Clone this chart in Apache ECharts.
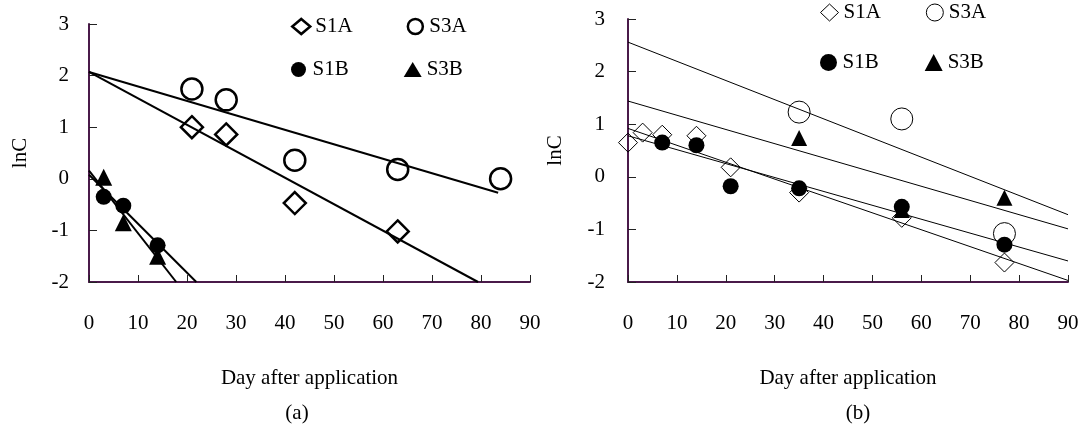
<!DOCTYPE html>
<html>
<head>
<meta charset="utf-8">
<script src="https://cdn.jsdelivr.net/npm/echarts@6/dist/echarts.min.js"></script>
<style>
html,body{margin:0;padding:0;background:#fff;}
#chart{width:1084px;height:433px;}
</style>
</head>
<body>
<div id="chart"></div>
<script>
// ---------- Data ----------
const xTicks = [0, 10, 20, 30, 40, 50, 60, 70, 80, 90];
const yTicks = [-2, -1, 0, 1, 2, 3];
const seriesNames = ['S1A', 'S3A', 'S1B', 'S3B'];

// Panel (a)
const a_S1A_x = [21, 28, 42, 63];
const a_S1A_y = [1.0, 0.86, -0.47, -1.02];
const a_S3A_x = [21, 28, 42, 63, 84];
const a_S3A_y = [1.74, 1.53, 0.36, 0.18, 0.0];
const a_S1B_x = [3, 7, 14];
const a_S1B_y = [-0.35, -0.52, -1.29];
const a_S3B_x = [3, 7, 14];
const a_S3B_y = [0.03, -0.85, -1.5];
// fitted lines (end points)
const a_fit_S1A = [[0, 2.07], [79.4, -2]];
const a_fit_S3A = [[0, 2.07], [83.5, -0.27]];
const a_fit_S1B = [[0, 0.08], [21.9, -2]];
const a_fit_S3B = [[0, 0.16], [17.8, -2]];

// Panel (b)
const b_S1A_x = [0, 3, 7, 14, 21, 35, 56, 77];
const b_S1A_y = [0.65, 0.84, 0.8, 0.78, 0.18, -0.3, -0.78, -1.63];
const b_S3A_x = [35, 56, 77];
const b_S3A_y = [1.23, 1.1, -1.08];
const b_S1B_x = [7, 14, 21, 35, 56, 77];
const b_S1B_y = [0.65, 0.6, -0.18, -0.22, -0.57, -1.29];
const b_S3B_x = [35, 56, 77];
const b_S3B_y = [0.74, -0.63, -0.4];
const b_fit_S3A = [[0, 2.56], [90, -0.72]];
const b_fit_S3B = [[0, 1.44], [90, -0.99]];
const b_fit_S1A = [[0, 0.92], [90, -1.97]];
const b_fit_S1B = [[0, 0.78], [90, -1.6]];

// ---------- Helpers ----------
const FONT = "'Liberation Serif', 'Times New Roman', serif";
const pairs = (xs, ys) => xs.map((x, i) => [x, ys[i]]);
const AXIS_COLOR = '#4a1a4a';

function xAxisFor(idx, labelMargin) {
  return {
    gridIndex: idx, type: 'value', min: xTicks[0], max: xTicks[xTicks.length - 1], interval: 10,
    axisLine: { onZero: false, lineStyle: { color: AXIS_COLOR, width: 2 } },
    axisTick: { inside: true, length: 7, lineStyle: { color: '#222', width: 1 } },
    splitLine: { show: false },
    axisLabel: { margin: labelMargin, fontSize: 21, color: '#000', fontFamily: FONT },
    name: 'Day after application', nameLocation: 'middle', nameGap: 86,
    nameTextStyle: { fontSize: 21, color: '#000', fontFamily: FONT }
  };
}
function yAxisFor(idx, labelMargin, nameGap) {
  return {
    gridIndex: idx, type: 'value', min: yTicks[0], max: yTicks[yTicks.length - 1], interval: 1,
    axisLine: { show: true, onZero: false, lineStyle: { color: AXIS_COLOR, width: 2 } },
    axisTick: { show: true, inside: true, length: 8, lineStyle: { color: '#222', width: 1 } },
    splitLine: { show: false },
    axisLabel: { margin: labelMargin, fontSize: 21, color: '#000', fontFamily: FONT },
    name: 'lnC', nameLocation: 'middle', nameRotate: 90, nameGap: nameGap,
    nameTextStyle: { fontSize: 21, color: '#000', fontFamily: FONT }
  };
}
function fitLine(name, idx, data, width) {
  return {
    name: name, type: 'line', xAxisIndex: idx, yAxisIndex: idx, data: data,
    symbol: 'none', silent: true, z: 1,
    lineStyle: { color: '#000', width: width }
  };
}
function scatter(name, idx, data, symbol, size, filled, bw, z) {
  return {
    name: name, type: 'scatter', xAxisIndex: idx, yAxisIndex: idx, data: data,
    symbol: symbol, symbolSize: size, z: z,
    itemStyle: filled
      ? { color: '#000', borderWidth: 0, opacity: 1 }
      : { color: 'rgba(255,255,255,0)', borderColor: '#000', borderWidth: bw, opacity: 1 }
  };
}
function legendRow(names, left, top, gap, h, bw) {
  return {
    data: names, left: left, top: top, orient: 'horizontal', itemGap: gap,
    itemWidth: 18, itemHeight: h, selectedMode: false, padding: 0,
    itemStyle: { borderWidth: bw },
    formatter: n => n.split(' ')[0],
    textStyle: { fontSize: 21, color: '#000', fontFamily: FONT }
  };
}
function caption(text, x, y) {
  return {
    type: 'text', x: x, y: y,
    style: { text: text, fontSize: 21, fontFamily: FONT, fill: '#000', align: 'center', verticalAlign: 'middle' }
  };
}

const option = {
  animation: false,
  backgroundColor: '#fff',
  grid: [
    { left: 89, right: 1084 - 530, top: 24, bottom: 433 - 282 },
    { left: 628, right: 1084 - 1068, top: 19, bottom: 433 - 282 }
  ],
  xAxis: [xAxisFor(0, 31), xAxisFor(1, 31)],
  yAxis: [yAxisFor(0, 20, 58), yAxisFor(1, 23, 62)],
  legend: [
    legendRow(['S1A (a)', 'S3A (a)'], 291, 16, 54, 15, 2.5),
    legendRow(['S1B (a)', 'S3B (a)'], 291, 59, 55, 15, 2.5),
    legendRow(['S1A (b)', 'S3A (b)'], 820, 2, 45, 17, 1),
    legendRow(['S1B (b)', 'S3B (b)'], 820, 52, 46, 17, 1)
  ],
  graphic: [caption('(a)', 297, 413), caption('(b)', 858, 413)],
  series: [
    fitLine('fit S1A a', 0, a_fit_S1A, 2),
    fitLine('fit S3A a', 0, a_fit_S3A, 2),
    fitLine('fit S1B a', 0, a_fit_S1B, 2),
    fitLine('fit S3B a', 0, a_fit_S3B, 2),
    scatter('S1A (a)', 0, pairs(a_S1A_x, a_S1A_y), 'diamond', 22, false, 2.5, 3),
    scatter('S3A (a)', 0, pairs(a_S3A_x, a_S3A_y), 'circle', 21, false, 2.5, 3),
    scatter('S3B (a)', 0, pairs(a_S3B_x, a_S3B_y), 'triangle', 17, true, 0, 4),
    scatter('S1B (a)', 0, pairs(a_S1B_x, a_S1B_y), 'circle', 16, true, 0, 5),

    fitLine('fit S3A b', 1, b_fit_S3A, 1),
    fitLine('fit S3B b', 1, b_fit_S3B, 1),
    fitLine('fit S1A b', 1, b_fit_S1A, 1),
    fitLine('fit S1B b', 1, b_fit_S1B, 1),
    scatter('S1A (b)', 1, pairs(b_S1A_x, b_S1A_y), 'diamond', 19, false, 1, 3),
    scatter('S3A (b)', 1, pairs(b_S3A_x, b_S3A_y), 'circle', 22, false, 1, 3),
    scatter('S3B (b)', 1, pairs(b_S3B_x, b_S3B_y), 'triangle', 16, true, 0, 4),
    scatter('S1B (b)', 1, pairs(b_S1B_x, b_S1B_y), 'circle', 16, true, 0, 5)
  ]
};

const chart = echarts.init(document.getElementById('chart'), null, { renderer: 'canvas' });
chart.setOption(option);
</script>
</body>
</html>
